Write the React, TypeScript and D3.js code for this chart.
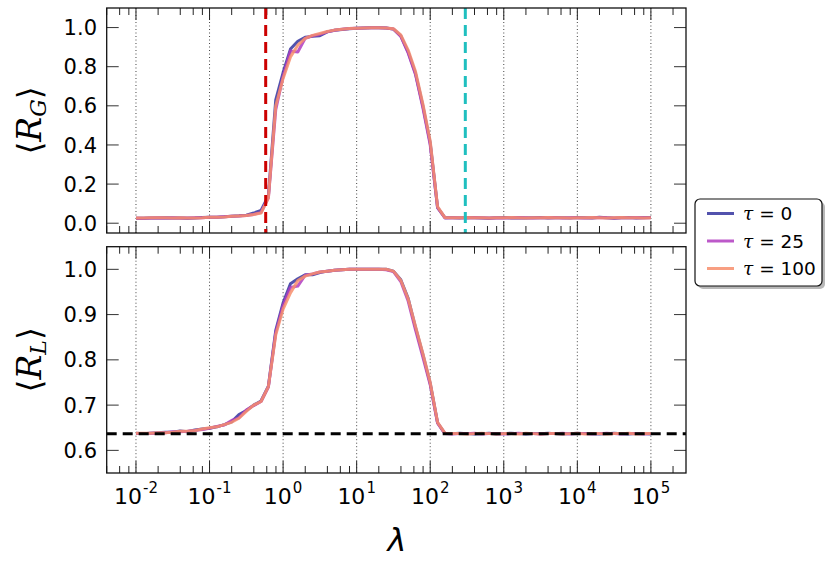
import * as d3 from 'd3';

// log10 of lambda at each sample
const logLambda = [
  -2.0, -1.9, -1.8, -1.7, -1.6, -1.5, -1.4, -1.3, -1.2, -1.1,
  -1.0, -0.9, -0.8, -0.7, -0.6, -0.5, -0.4, -0.3, -0.2, -0.1,
  0.0, 0.1, 0.2, 0.3, 0.4, 0.5, 0.6, 0.7, 0.8, 0.9,
  1.0, 1.1, 1.2, 1.3, 1.4, 1.5, 1.6, 1.7, 1.8, 1.9,
  2.0, 2.1, 2.2, 2.3, 2.4, 2.5, 2.6, 2.7, 2.8, 2.9,
  3.0, 3.1, 3.2, 3.3, 3.4, 3.5, 3.6, 3.7, 3.8, 3.9,
  4.0, 4.1, 4.2, 4.3, 4.4, 4.5, 4.6, 4.7, 4.8, 4.9,
  5.0,
];

// <R_G>, top panel
const rgTau0 = [
  0.025, 0.026, 0.027, 0.027, 0.028, 0.027, 0.027, 0.026, 0.027, 0.029,
  0.031, 0.031, 0.033, 0.036, 0.038, 0.041, 0.052, 0.065, 0.14, 0.63,
  0.77, 0.89, 0.93, 0.95, 0.955, 0.958, 0.978, 0.986, 0.99, 0.994,
  0.997, 0.998, 0.999, 0.999, 0.998, 0.992, 0.958, 0.875, 0.765, 0.6,
  0.41, 0.08, 0.028, 0.028, 0.027, 0.029, 0.028, 0.027, 0.026, 0.028,
  0.029, 0.027, 0.028, 0.027, 0.028, 0.029, 0.027, 0.028, 0.028, 0.027,
  0.029, 0.028, 0.027, 0.031, 0.028, 0.026, 0.028, 0.029, 0.027, 0.028,
  0.029,
];
const rgTau25 = [
  0.026, 0.026, 0.027, 0.028, 0.027, 0.028, 0.027, 0.027, 0.028, 0.028,
  0.030, 0.031, 0.033, 0.035, 0.037, 0.040, 0.045, 0.055, 0.13, 0.58,
  0.75, 0.88, 0.875, 0.945, 0.958, 0.965, 0.978, 0.986, 0.991, 0.995,
  0.997, 0.998, 0.999, 0.999, 0.998, 0.993, 0.955, 0.87, 0.76, 0.59,
  0.40, 0.08, 0.027, 0.028, 0.028, 0.027, 0.029, 0.028, 0.027, 0.028,
  0.027, 0.028, 0.029, 0.028, 0.027, 0.028, 0.028, 0.029, 0.027, 0.028,
  0.028, 0.027, 0.028, 0.029, 0.028, 0.027, 0.028, 0.028, 0.029, 0.028,
  0.028,
];
const rgTau100 = [
  0.027, 0.027, 0.028, 0.028, 0.028, 0.027, 0.028, 0.027, 0.027, 0.028,
  0.030, 0.031, 0.032, 0.035, 0.037, 0.039, 0.045, 0.052, 0.13, 0.6,
  0.74, 0.85, 0.91, 0.945, 0.96, 0.97, 0.98, 0.987, 0.991, 0.995,
  0.997, 0.998, 0.999, 0.999, 0.998, 0.994, 0.962, 0.885, 0.775, 0.61,
  0.42, 0.085, 0.029, 0.028, 0.028, 0.029, 0.028, 0.028, 0.027, 0.028,
  0.028, 0.029, 0.028, 0.027, 0.028, 0.028, 0.029, 0.028, 0.028, 0.027,
  0.028, 0.028, 0.029, 0.028, 0.027, 0.028, 0.029, 0.028, 0.028, 0.027,
  0.028,
];

// <R_L>, bottom panel
const rlTau0 = [
  0.638, 0.637, 0.638, 0.639, 0.640, 0.640, 0.643, 0.641, 0.645, 0.647,
  0.649, 0.652, 0.657, 0.663, 0.679, 0.688, 0.700, 0.709, 0.742, 0.865,
  0.926, 0.968, 0.979, 0.988, 0.988, 0.993, 0.996, 0.998, 0.999, 1.0,
  1.0, 1.0, 1.0, 1.0, 1.0, 0.996, 0.977, 0.936, 0.872, 0.812,
  0.748, 0.661, 0.637, 0.637, 0.638, 0.637, 0.636, 0.637, 0.638, 0.636,
  0.637, 0.638, 0.637, 0.636, 0.637, 0.637, 0.638, 0.637, 0.636, 0.637,
  0.638, 0.637, 0.637, 0.636, 0.637, 0.638, 0.637, 0.636, 0.637, 0.637,
  0.636,
];
const rlTau25 = [
  0.637, 0.637, 0.638, 0.638, 0.639, 0.641, 0.641, 0.642, 0.644, 0.646,
  0.649, 0.653, 0.656, 0.666, 0.672, 0.689, 0.699, 0.708, 0.740, 0.86,
  0.92, 0.96, 0.963, 0.987, 0.99, 0.994, 0.996, 0.998, 0.999, 1.0,
  1.0, 1.0, 1.0, 1.0, 0.999, 0.995, 0.973, 0.93, 0.866, 0.806,
  0.745, 0.66, 0.637, 0.636, 0.637, 0.637, 0.638, 0.636, 0.637, 0.637,
  0.636, 0.637, 0.638, 0.637, 0.637, 0.636, 0.637, 0.637, 0.638, 0.636,
  0.637, 0.637, 0.636, 0.637, 0.638, 0.637, 0.636, 0.637, 0.637, 0.636,
  0.637,
];
const rlTau100 = [
  0.638, 0.638, 0.638, 0.639, 0.639, 0.640, 0.642, 0.642, 0.644, 0.647,
  0.650, 0.652, 0.657, 0.662, 0.671, 0.686, 0.700, 0.708, 0.741, 0.855,
  0.912, 0.948, 0.975, 0.985, 0.99, 0.994, 0.996, 0.998, 0.999, 1.0,
  1.0, 1.0, 1.0, 1.0, 1.0, 0.996, 0.976, 0.935, 0.874, 0.814,
  0.75, 0.662, 0.638, 0.637, 0.637, 0.636, 0.637, 0.638, 0.637, 0.636,
  0.637, 0.637, 0.636, 0.638, 0.637, 0.636, 0.637, 0.637, 0.636, 0.637,
  0.638, 0.636, 0.637, 0.637, 0.636, 0.637, 0.637, 0.638, 0.636, 0.637,
  0.637,
];

const tauLabels = ['0', '25', '100'];
const tauColors = ['#34349f', '#b03cbf', '#f78e6c'];

const topYTicks = [0.0, 0.2, 0.4, 0.6, 0.8, 1.0];
const bottomYTicks = [0.6, 0.7, 0.8, 0.9, 1.0];
const decadeExps = [-2, -1, 0, 1, 2, 3, 4, 5];
const minorMults = [2, 4, 6, 8];

const lambdaG = 0.58; // red dashed
const lambdaMax = 300; // cyan dashed
const rlBaseline = 2 / Math.PI; // black dashed

const W = 831;
const H = 569;
const left = 106.7;
const right = 686;
const topPanel = { y0: 8, y1: 233 };
const botPanel = { y0: 246.7, y1: 473 };

const sans = 'DejaVu Sans, sans-serif';
const serif = 'DejaVu Serif, serif';

const x = d3.scaleLog().domain([0.004, 3e5]).range([left, right]);
const yTop = d3.scaleLinear().domain([-0.05, 1.1]).range([topPanel.y1, topPanel.y0]);
const yBot = d3.scaleLinear().domain([0.55, 1.05]).range([botPanel.y1, botPanel.y0]);

const minorTicks: number[] = [];
for (let e = -3; e <= 5; e++) {
  for (const m of minorMults) {
    const v = m * Math.pow(10, e);
    if (v >= 0.004 && v <= 3e5) minorTicks.push(v);
  }
}

function Panel({ y, y0, y1, series, yTicks, fmt }: any) {
  const line = d3.line<number>()
    .x((_, i) => x(Math.pow(10, logLambda[i])))
    .y(d => y(d));
  return (
    <g>
      {decadeExps.map(e => (
        <line key={'g' + e} x1={x(Math.pow(10, e))} x2={x(Math.pow(10, e))} y1={y0} y2={y1}
          stroke="#444" strokeWidth={1} strokeDasharray="1,2.5" />
      ))}
      {series.map((s: number[], k: number) => (
        <path key={'s' + k} d={line(s) as string} fill="none" stroke={tauColors[k]}
          strokeWidth={3} strokeOpacity={0.85} strokeLinejoin="round" />
      ))}
      {/* x ticks, inward, top and bottom */}
      {decadeExps.map(e => {
        const xx = x(Math.pow(10, e));
        return (
          <g key={'M' + e} stroke="#222" strokeWidth={1}>
            <line x1={xx} x2={xx} y1={y1} y2={y1 - 12} />
            <line x1={xx} x2={xx} y1={y0} y2={y0 + 12} />
          </g>
        );
      })}
      {minorTicks.map((v, i) => {
        const xx = x(v);
        return (
          <g key={'m' + i} stroke="#222" strokeWidth={1}>
            <line x1={xx} x2={xx} y1={y1} y2={y1 - 7} />
            <line x1={xx} x2={xx} y1={y0} y2={y0 + 7} />
          </g>
        );
      })}
      {yTicks.map((t: number) => (
        <g key={'y' + t}>
          <line x1={left} x2={left + 12} y1={y(t)} y2={y(t)} stroke="#333" strokeWidth={1} />
          <line x1={right} x2={right - 12} y1={y(t)} y2={y(t)} stroke="#333" strokeWidth={1} />
          <text x={97} y={y(t)} dy="0.36em" textAnchor="end" fontFamily={sans} fontSize={21}>
            {fmt(t)}
          </text>
        </g>
      ))}
    </g>
  );
}

function Frame({ y0, y1 }: { y0: number; y1: number }) {
  return <rect x={left} y={y0} width={right - left} height={y1 - y0} fill="none" stroke="#111" strokeWidth={1.3} />;
}

export default function App() {
  const fmt1 = d3.format('.1f');
  return (
    <svg width={W} height={H} style={{ position: 'absolute', left: 0, top: 0, background: '#fff' }}>
      <rect width={W} height={H} fill="#fff" />

      <Panel y={yTop} y0={topPanel.y0} y1={topPanel.y1} series={[rgTau0, rgTau25, rgTau100]}
        yTicks={topYTicks} fmt={fmt1} />
      <line x1={x(lambdaG)} x2={x(lambdaG)} y1={topPanel.y0} y2={topPanel.y1}
        stroke="#cc0000" strokeWidth={3} strokeDasharray="11,6" />
      <line x1={x(lambdaMax)} x2={x(lambdaMax)} y1={topPanel.y0} y2={topPanel.y1}
        stroke="#1fbfbf" strokeWidth={3} strokeDasharray="11,6" />
      <Frame y0={topPanel.y0} y1={topPanel.y1} />

      <Panel y={yBot} y0={botPanel.y0} y1={botPanel.y1} series={[rlTau0, rlTau25, rlTau100]}
        yTicks={bottomYTicks} fmt={fmt1} />
      <line x1={left} x2={right} y1={yBot(rlBaseline)} y2={yBot(rlBaseline)}
        stroke="#000" strokeWidth={3} strokeDasharray="10,6" />
      <Frame y0={botPanel.y0} y1={botPanel.y1} />

      {/* x tick labels */}
      {decadeExps.map(e => (
        <text key={'xl' + e} x={x(Math.pow(10, e))} y={504} textAnchor="middle" fontFamily={sans} fontSize={22}>
          10<tspan dx={1} dy={-11} fontSize={15}>{String(e)}</tspan>
        </text>
      ))}

      {/* axis labels */}
      <text x={397} y={551} textAnchor="middle" fontFamily={sans} fontStyle="italic" fontSize={32}>λ</text>
      {[
        { cy: (topPanel.y0 + topPanel.y1) / 2, sub: 'G' },
        { cy: (botPanel.y0 + botPanel.y1) / 2, sub: 'L' },
      ].map(l => (
        <text key={l.sub} transform={`translate(41,${l.cy}) rotate(-90)`} textAnchor="middle" fontSize={33}>
          <tspan fontFamily={sans}>⟨</tspan>
          <tspan fontFamily={serif} fontStyle="italic">R</tspan>
          <tspan fontFamily={serif} fontStyle="italic" fontSize={22} dy={5}>{l.sub}</tspan>
          <tspan fontFamily={sans} dy={-5}>⟩</tspan>
        </text>
      ))}

      {/* legend */}
      <g>
        <rect x={698} y={202} width={127} height={87} rx={5} fill="#888" opacity={0.6} />
        <rect x={695} y={199} width={127} height={87} rx={5} fill="#fff" stroke="#111" strokeWidth={1.2} />
        {tauLabels.map((t, i) => {
          const ry = 213.5 + i * 27.5;
          return (
            <g key={t}>
              <line x1={707} x2={734} y1={ry} y2={ry} stroke={tauColors[i]} strokeWidth={3} strokeOpacity={0.85} />
              <text x={743} y={ry} dy="0.36em" fontFamily={sans} fontSize={18.5}>
                <tspan fontFamily={serif} fontStyle="italic">τ</tspan> = {t}
              </text>
            </g>
          );
        })}
      </g>
    </svg>
  );
}
